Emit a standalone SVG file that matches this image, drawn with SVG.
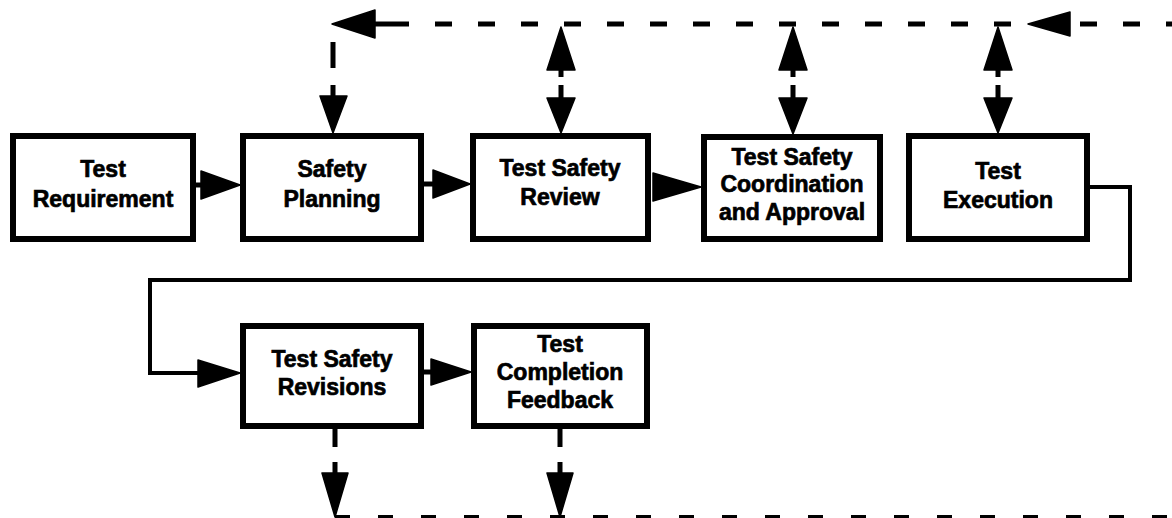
<svg xmlns="http://www.w3.org/2000/svg" width="1172" height="518" viewBox="0 0 1172 518">
<style>
.box{fill:#fff;stroke:#000;stroke-width:6}
.lbl{font-family:"Liberation Sans",Arial,Helvetica,sans-serif;font-weight:bold;font-size:23px;fill:#000;stroke:#000;stroke-width:0.7;text-anchor:middle}
.solid{fill:none;stroke:#000;stroke-width:5}
.thin{fill:none;stroke:#000;stroke-width:4}
.dash{fill:none;stroke:#000;stroke-width:5;stroke-dasharray:17 26}
.head{fill:#000;stroke:#000;stroke-width:1.5;stroke-linejoin:round}
</style>
<rect width="1172" height="518" fill="#fff"/>
<g id="connectors">
  <!-- top dashed feedback line -->
  <path class="dash" d="M392,24 H1172"/>
  <path class="solid" d="M372,24 H392"/>
  <polygon class="head" points="332,24 375,10 375,38"/>
  <polygon class="head" points="1028,24 1070,12 1070,36"/>
  <!-- down to Safety Planning -->
  <path class="solid" d="M333,42 V68 M333,85 V97"/>
  <polygon class="head" points="320,96 347,96 333,133"/>
  <!-- double arrows -->
  <polygon class="head" points="561,27 547,70 575,70"/>
  <path class="solid" d="M561,70 V77 M561,85 V98"/>
  <polygon class="head" points="547,98 575,98 561,133"/>
  <polygon class="head" points="793,27 779,70 807,70"/>
  <path class="solid" d="M793,70 V77 M793,85 V98"/>
  <polygon class="head" points="779,98 807,98 793,134"/>
  <polygon class="head" points="998,27 984,70 1012,70"/>
  <path class="solid" d="M998,70 V77 M998,85 V98"/>
  <polygon class="head" points="984,98 1012,98 998,133"/>
  <!-- row 1 arrows -->
  <path class="solid" d="M196,185 H203"/>
  <polygon class="head" points="201,171 240,185 201,199"/>
  <path class="solid" d="M424,184 H435"/>
  <polygon class="head" points="433,170 470,184 433,198"/>
  <polygon class="head" points="653,173 701,187 653,201"/>
  <!-- execution to revisions -->
  <path class="thin" d="M1090,187 H1130 V280 H150 V373 H202"/>
  <polygon class="head" points="198,360 240,373 198,387"/>
  <!-- revisions to completion -->
  <path class="solid" d="M424,372 H433"/>
  <polygon class="head" points="431,359 471,372 431,385"/>
  <!-- bottom down arrows -->
  <path class="solid" d="M335,429 V447 M335,462 V474"/>
  <polygon class="head" points="322,473 348,473 335,517"/>
  <path class="solid" d="M560,429 V447 M560,462 V474"/>
  <polygon class="head" points="547,473 573,473 560,517"/>
  <!-- bottom dashed line -->
  <path class="dash" d="M335,518 H1172" style="stroke-width:6;stroke-dasharray:15 28"/>
</g>
<g id="n1">
  <rect class="box" x="13" y="136" width="180" height="103"/>
  <text class="lbl" x="103" y="177">Test</text>
  <text class="lbl" x="103" y="207">Requirement</text>
</g>
<g id="n2">
  <rect class="box" x="243" y="136" width="178" height="103"/>
  <text class="lbl" x="332" y="177">Safety</text>
  <text class="lbl" x="332" y="207">Planning</text>
</g>
<g id="n3">
  <rect class="box" x="473" y="136" width="175" height="103"/>
  <text class="lbl" x="560" y="176">Test Safety</text>
  <text class="lbl" x="560" y="205">Review</text>
</g>
<g id="n4">
  <rect class="box" x="704" y="137" width="176" height="102"/>
  <text class="lbl" x="792" y="165">Test Safety</text>
  <text class="lbl" x="792" y="192">Coordination</text>
  <text class="lbl" x="792" y="220">and Approval</text>
</g>
<g id="n5">
  <rect class="box" x="909" y="136" width="178" height="103"/>
  <text class="lbl" x="998" y="179">Test</text>
  <text class="lbl" x="998" y="208">Execution</text>
</g>
<g id="n6">
  <rect class="box" x="243" y="326" width="178" height="100"/>
  <text class="lbl" x="332" y="367">Test Safety</text>
  <text class="lbl" x="332" y="395">Revisions</text>
</g>
<g id="n7">
  <rect class="box" x="474" y="326" width="173" height="100"/>
  <text class="lbl" x="560" y="352">Test</text>
  <text class="lbl" x="560" y="380">Completion</text>
  <text class="lbl" x="560" y="408">Feedback</text>
</g>
</svg>
